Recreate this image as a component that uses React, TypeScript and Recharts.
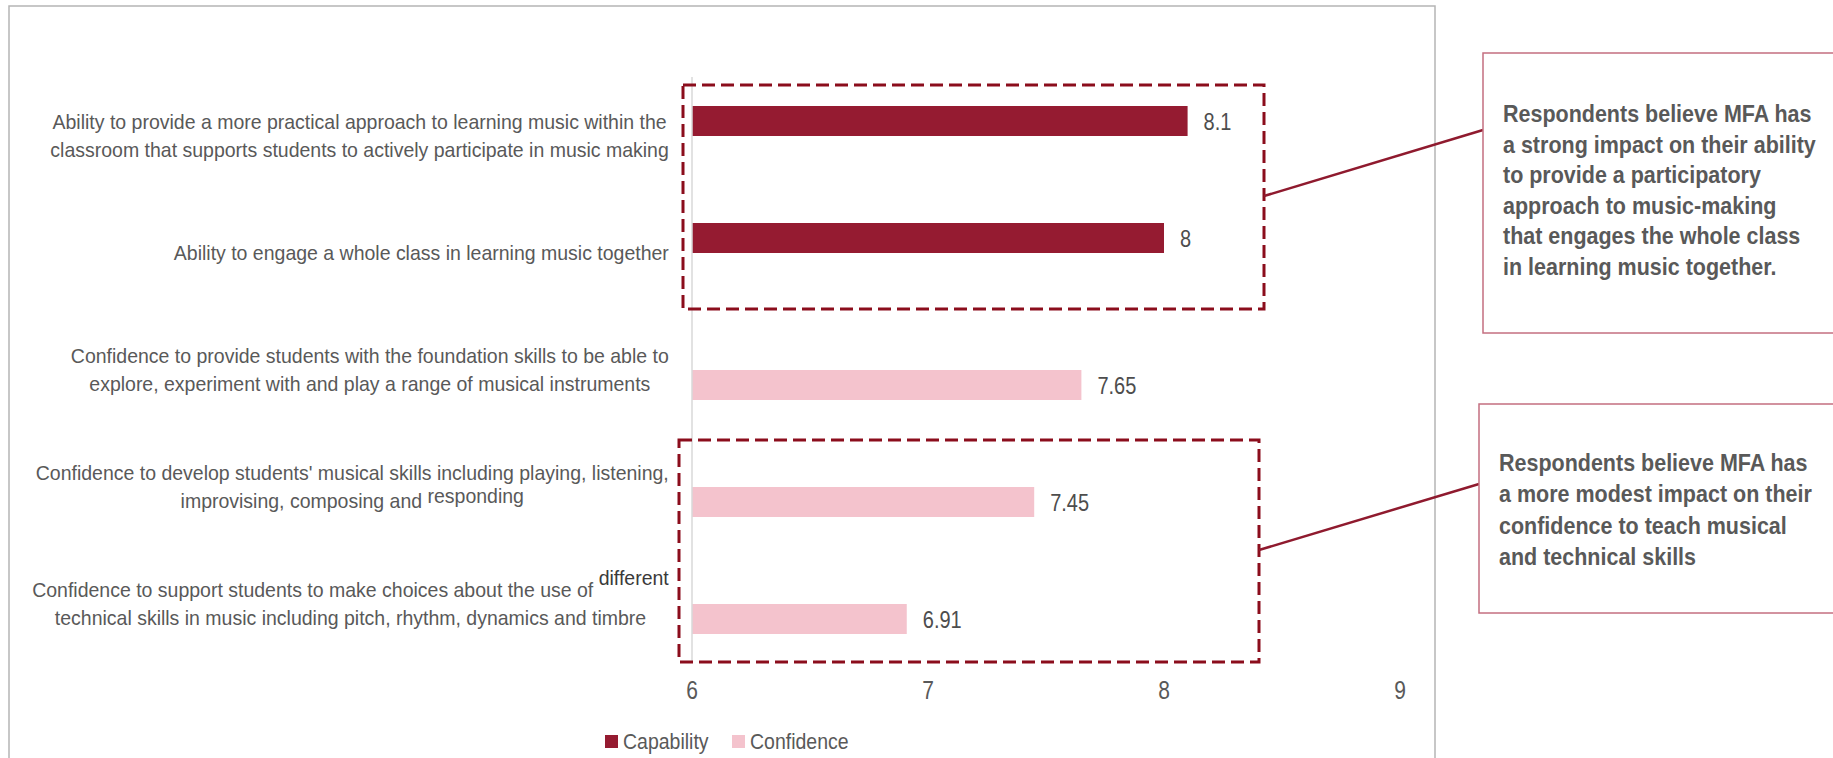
import React from 'react';
import { BarChart, Bar, XAxis, YAxis, LabelList } from 'recharts';

// Category labels, line breaks as in the source slide
const categories = [
  'Ability to provide a more practical approach to learning music within the\nclassroom that supports students to actively participate in music making',
  'Ability to engage a whole class in learning music together',
  'Confidence to provide students with the foundation skills to be able to\nexplore, experiment with and play a range of musical instruments',
  "Confidence to develop students' musical skills including playing, listening,\nimprovising, composing and responding",
  'Confidence to support students to make choices about the use of different\ntechnical skills in music including pitch, rhythm, dynamics and timbre',
];
const capability = [8.1, 8, null, null, null];
const confidence = [null, null, 7.65, 7.45, 6.91];
const xTicks = [6, 7, 8, 9];
const seriesNames = ['Capability', 'Confidence'];

const calloutStrong = [
  'Respondents believe MFA has',
  'a strong impact on their ability',
  'to provide a participatory',
  'approach to music-making',
  'that engages the whole class',
  'in learning music together.',
];
const calloutModest = [
  'Respondents believe MFA has',
  'a more modest impact on their',
  'confidence to teach musical',
  'and technical skills',
];

const CAP_COLOR = '#951b31';
const CONF_COLOR = '#f4c3cd';
const TEXT = '#595959';
const DASH = '#8b0d1c';
const FONT = '"Liberation Sans", Arial, sans-serif';

// a couple of words sit a bit above their line in the original
const raisedWords: Record<string, { dy: number; fill: string }> = {
  responding: { dy: -5, fill: TEXT },
  different: { dy: -11, fill: '#3a3a3a' },
};

let measureCtx: CanvasRenderingContext2D | null = null;
function textWidth(s: string, font: string) {
  if (!measureCtx) measureCtx = document.createElement('canvas').getContext('2d');
  if (!measureCtx) return s.length * 9;
  measureCtx.font = font;
  return measureCtx.measureText(s).width;
}

const data = categories.map((name, i) => ({
  name,
  Capability: capability[i],
  Confidence: confidence[i],
}));

// Excel style: block right aligned, lines centred inside the block
const CategoryTick = (props: any) => {
  const { x, y, payload } = props;
  const lines = String(payload.value).split('\n');
  const font = `19.5px ${FONT}`;
  const maxW = Math.max(...lines.map((l) => textWidth(l, font)));
  const cx = x - maxW / 2;
  const lh = 28;
  const first = y - ((lines.length - 1) * lh) / 2 + 7.3;
  return (
    <g>
      {lines.map((line, i) => {
        const words = line.split(' ');
        const last = words[words.length - 1];
        const raise = raisedWords[last];
        return (
          <text
            key={i}
            transform={`translate(${cx},${first + i * lh}) scale(1,1.06)`}
            textAnchor="middle"
            fill={TEXT}
            fontSize={19.5}
            fontFamily={FONT}
          >
            {raise ? (
              <>
                <tspan>{words.slice(0, -1).join(' ') + ' '}</tspan>
                <tspan dy={raise.dy} fill={raise.fill}>
                  {last}
                </tspan>
              </>
            ) : (
              line
            )}
          </text>
        );
      })}
    </g>
  );
};

const ValueTick = ({ x, y, payload }: any) => (
  <text
    transform={`translate(${x},${y}) scale(1,1.2)`}
    textAnchor="middle"
    fill={TEXT}
    fontSize={21}
    fontFamily={FONT}
  >
    {payload.value}
  </text>
);

const ValueLabel = (props: any) => {
  const { value } = props;
  if (value == null) return null;
  const vb = props.viewBox && props.viewBox.width != null ? props.viewBox : props;
  const { x, y, width, height } = vb;
  return (
    <text
      transform={`translate(${x + width + 16},${y + height / 2 + 8.6}) scale(1,1.2)`}
      fill="#4d4d4d"
      fontSize={20}
      fontFamily={FONT}
    >
      {value}
    </text>
  );
};

const Callout = ({ lines, x, y, step }: { lines: string[]; x: number; y: number; step: number }) => (
  <>
    {lines.map((l, i) => (
      <text
        key={i}
        transform={`translate(${x},${y + i * step}) scale(1,1.07)`}
        fill={TEXT}
        fontSize={21.5}
        fontWeight="bold"
        fontFamily={FONT}
      >
        {l}
      </text>
    ))}
  </>
);

export default function App() {
  return (
    <div
      style={{
        position: 'absolute',
        left: 0,
        top: 0,
        width: 1833,
        height: 758,
        background: '#fff',
        overflow: 'hidden',
        fontFamily: FONT,
      }}
    >
      <BarChart
        width={1833}
        height={758}
        data={data}
        layout="vertical"
        margin={{ top: 77, right: 433, bottom: 0, left: 0 }}
        barGap={0}
        barSize={30}
      >
        <XAxis
          type="number"
          domain={[6, 9]}
          ticks={xTicks}
          axisLine={false}
          tickLine={false}
          tickSize={0}
          tickMargin={37}
          height={96}
          tick={<ValueTick />}
        />
        <YAxis
          type="category"
          dataKey="name"
          width={692}
          axisLine={{ stroke: '#d9d9d9', strokeWidth: 1.5 }}
          tickLine={false}
          tickSize={0}
          tickMargin={23}
          tick={<CategoryTick />}
          interval={0}
        />
        <Bar dataKey="Capability" fill={CAP_COLOR} isAnimationActive={false}>
          <LabelList dataKey="Capability" content={<ValueLabel />} />
        </Bar>
        <Bar dataKey="Confidence" fill={CONF_COLOR} isAnimationActive={false}>
          <LabelList dataKey="Confidence" content={<ValueLabel />} />
        </Bar>
      </BarChart>

      {/* frame, highlight boxes, callouts and legend */}
      <svg
        width={1833}
        height={758}
        style={{ position: 'absolute', left: 0, top: 0, pointerEvents: 'none' }}
      >
        <rect x={9} y={6} width={1426} height={800} fill="none" stroke="#b5b5b5" strokeWidth={1.5} />

        <rect x={683} y={85} width={581} height={224} fill="none" stroke={DASH} strokeWidth={3} strokeDasharray="13 6" />
        <rect x={679} y={440} width={580} height={222} fill="none" stroke={DASH} strokeWidth={3} strokeDasharray="13 6" />

        <line x1={1264} y1={196} x2={1483} y2={130} stroke="#8f1a2e" strokeWidth={2.5} />
        <line x1={1259} y1={550} x2={1479} y2={484} stroke="#8f1a2e" strokeWidth={2.5} />

        <rect x={1483} y={53} width={400} height={280} fill="#fff" stroke="#c46f80" strokeWidth={1.5} />
        <rect x={1479} y={404} width={400} height={209} fill="#fff" stroke="#c46f80" strokeWidth={1.5} />

        <Callout lines={calloutStrong} x={1503} y={122} step={30.6} />
        <Callout lines={calloutModest} x={1499} y={471} step={31.3} />

        {seriesNames.map((name, i) => {
          const lx = i === 0 ? 605 : 732;
          return (
            <g key={name}>
              <rect x={lx} y={735} width={13} height={13} fill={i === 0 ? CAP_COLOR : CONF_COLOR} />
              <text
                transform={`translate(${lx + 18},749) scale(1,1.1)`}
                fill={TEXT}
                fontSize={19.5}
                fontFamily={FONT}
              >
                {name}
              </text>
            </g>
          );
        })}
      </svg>
    </div>
  );
}
